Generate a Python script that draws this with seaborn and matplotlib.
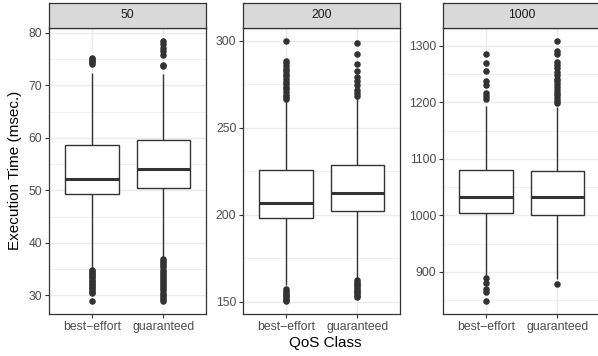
import numpy as np
import pandas as pd
import matplotlib
matplotlib.use("Agg")
import matplotlib.pyplot as plt
import seaborn as sns

# Chart values
panels = ["50", "200", "1000"]
qos = ["best\u2212effort", "guaranteed"]

# box summary per panel: [best-effort, guaranteed]
whisker_lo = [[35.1, 37.2], [159.5, 163.7], [893, 887]]
q1 = [[49.2, 50.5], [198.4, 202.4], [1005, 1001.5]]
median = [[52.2, 54.0], [206.8, 212.4], [1033, 1032]]
q3 = [[58.6, 59.5], [225.7, 228.8], [1080.5, 1078]]
whisker_hi = [[72.3, 72.2], [265.4, 267.4], [1193, 1192]]

# outliers per panel: [best-effort, guaranteed]
outliers_50 = [
    [75.3, 75.0, 74.7, 74.4, 74.1, 34.9, 34.6, 34.3, 34.0, 33.7, 33.4, 33.1,
     32.8, 32.5, 32.2, 31.9, 31.6, 31.3, 31.0, 30.7, 30.4, 28.9],
    [78.5, 77.8, 77.2, 76.6, 75.7, 73.9, 73.6, 36.9, 36.5, 36.1, 35.7, 35.3,
     34.9, 34.5, 34.1, 33.7, 33.3, 32.9, 32.5, 32.1, 31.7, 31.3, 30.9, 30.5,
     30.1, 29.7, 29.3, 28.9],
]
outliers_200 = [
    [300.0, 288.5, 287.0, 285.5, 284.0, 282.5, 281.0, 279.5, 278.0, 276.5,
     275.0, 273.5, 272.0, 270.5, 269.0, 267.5, 266.5,
     157.2, 156.2, 155.2, 154.2, 153.2, 152.2, 151.2, 150.5],
    [298.8, 292.2, 286.6, 282.4, 279.0, 276.7, 274.4, 271.9, 270.0, 268.5,
     162.5, 161.5, 160.5, 159.5, 158.5, 157.5, 156.5, 155.5, 154.5, 153.5, 153.0],
]
outliers_1000 = [
    [1285.8, 1269.4, 1254.6, 1238.0, 1231.0, 1216.3, 1210.3, 1205.7,
     889.9, 879.9, 869.3, 864.6, 848.7],
    [1308.8, 1290.0, 1285.0, 1272.0, 1266.0, 1260.0, 1254.0, 1248.0, 1242.0,
     1237.0, 1232.0, 1227.0, 1222.0, 1217.0, 1212.0, 1207.0, 1203.0, 1199.0,
     879.0],
]
outliers = [outliers_50, outliers_200, outliers_1000]
y_ticks = [[30, 40, 50, 60, 70, 80], [150, 200, 250, 300],
           [900, 1000, 1100, 1200, 1300]]

# Theme (ggplot theme_bw look)
sns.set_theme(style="white")
plt.rcParams["font.family"] = ["Liberation Sans", "DejaVu Sans"]

W, H = 598, 356
fig = plt.figure(figsize=(W / 100, H / 100), dpi=100)

dark = "#333333"
panel_lefts = [49.3, 243.3, 443.3]
panel_w = 157.0
panel_top, panel_bottom, strip_top = 27.7, 314.0, 3.3

for i, name in enumerate(panels):
    left = panel_lefts[i]
    ax = fig.add_axes([left / W, (H - panel_bottom) / H, panel_w / W,
                       (panel_bottom - panel_top) / H])
    box_rows = []
    for j, q in enumerate(qos):
        for v in [whisker_lo[i][j], q1[i][j], median[i][j], q3[i][j], whisker_hi[i][j]]:
            box_rows.append({"qos": q, "time": v})
    box_df = pd.DataFrame(box_rows)
    out_df = pd.DataFrame([{"qos": q, "time": v}
                           for j, q in enumerate(qos) for v in outliers[i][j]])

    sns.boxplot(data=box_df, x="qos", y="time", order=qos, ax=ax, whis=(0, 100),
                width=0.75, color="white", linecolor=dark, linewidth=1.0,
                showfliers=False, showcaps=False, saturation=1,
                medianprops={"linewidth": 2.2, "color": dark}, zorder=3)
    sns.stripplot(data=out_df, x="qos", y="time", order=qos, ax=ax, jitter=False,
                  color=dark, size=4.7, linewidth=0, zorder=4)

    allv = np.concatenate([box_df["time"].values, out_df["time"].values])
    lo, hi = allv.min(), allv.max()
    pad = (hi - lo) * 0.05
    ax.set_ylim(lo - pad, hi + pad)
    ax.set_xlim(-0.6, 1.6)

    major = y_ticks[i]
    step = major[1] - major[0]
    minor = [m + step / 2 for m in [major[0] - step] + major]
    minor = [m for m in minor if lo - pad < m < hi + pad]
    ax.set_yticks(major)
    ax.set_yticks(minor, minor=True)
    ax.set_facecolor("white")
    ax.grid(True, which="major", color="#EBEBEB", linewidth=1.0, zorder=0)
    ax.grid(True, which="minor", axis="y", color="#EBEBEB", linewidth=0.5, zorder=0)
    ax.set_axisbelow(True)
    ax.tick_params(axis="both", which="major", length=2.75, width=0.8, color=dark,
                   labelsize=8.8, labelcolor="#4D4D4D", pad=2.2,
                   left=True, bottom=True)
    ax.tick_params(axis="y", which="minor", length=0)
    for s in ax.spines.values():
        s.set_color(dark)
        s.set_linewidth(0.9)
    ax.set_xlabel("")
    ax.set_ylabel("")

    # facet strip
    sax = fig.add_axes([left / W, (H - panel_top) / H, panel_w / W,
                        (panel_top - strip_top) / H])
    sax.set_facecolor("#D9D9D9")
    sax.set_xticks([])
    sax.set_yticks([])
    for s in sax.spines.values():
        s.set_color(dark)
        s.set_linewidth(0.9)
    sax.text(0.5, 0.5, name, ha="center", va="center", fontsize=8.8,
             color="#1A1A1A", transform=sax.transAxes)

fig.text(15 / W, 1 - (panel_top + panel_bottom) / 2 / H, "Execution Time (msec.)",
         rotation=90, ha="center", va="center", fontsize=11, color="black")
fig.text(325 / W, 1 - 343 / H, "QoS Class", ha="center", va="center",
         fontsize=11, color="black")

fig.savefig("out.png", dpi=100)
